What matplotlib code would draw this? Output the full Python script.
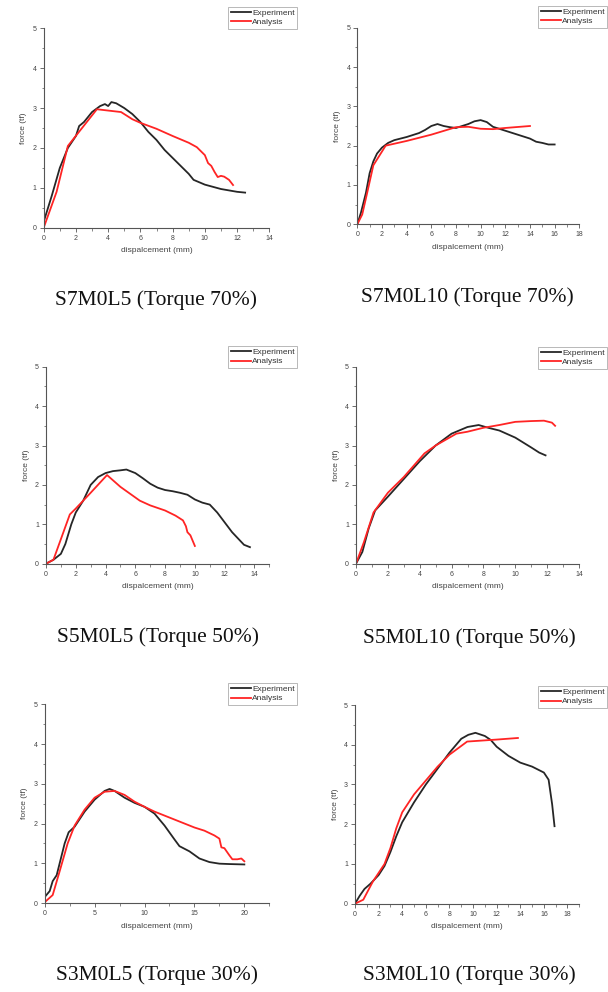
import matplotlib
matplotlib.use("Agg")
import matplotlib.pyplot as plt
from matplotlib.ticker import MultipleLocator

plt.rcParams['font.family'] = ['Liberation Sans', 'DejaVu Sans']

W, H = 608, 992
fig = plt.figure(figsize=(W / 100, H / 100), dpi=100)

# ---------------- data ----------------
# S7M0L5 (Torque 70%)
p1_exp_x = [0, 0.5, 1, 1.5, 2, 2.2, 2.5, 3, 3.5, 3.8, 4, 4.2, 4.5, 5, 5.5, 6, 6.5, 7, 7.5, 8, 8.5, 9, 9.3, 10, 11, 12, 12.5]
p1_exp_y = [0.15, 0.8, 1.5, 2.0, 2.3, 2.55, 2.65, 2.9, 3.05, 3.1, 3.05, 3.15, 3.12, 3.0, 2.85, 2.65, 2.4, 2.2, 1.95, 1.75, 1.55, 1.35, 1.2, 1.08, 0.97, 0.9, 0.88]
p1_ana_x = [0, 0.8, 1.5, 3.3, 4.8, 5.5, 6, 7, 8, 9, 9.5, 10, 10.2, 10.4, 10.6, 10.8, 11, 11.2, 11.5, 11.75]
p1_ana_y = [0, 0.9, 2.05, 2.97, 2.9, 2.72, 2.63, 2.48, 2.3, 2.13, 2.02, 1.82, 1.62, 1.55, 1.4, 1.27, 1.3, 1.28, 1.2, 1.07]

# S7M0L10 (Torque 70%)
p2_exp_x = [0, 0.3, 0.7, 1.0, 1.3, 1.6, 2, 2.5, 3, 4, 5, 5.5, 6, 6.5, 7, 7.5, 8, 8.5, 9, 9.5, 10, 10.5, 11, 12, 13, 14, 14.5, 15, 15.5, 16]
p2_exp_y = [0, 0.3, 0.8, 1.3, 1.6, 1.8, 1.95, 2.07, 2.14, 2.22, 2.32, 2.4, 2.5, 2.55, 2.5, 2.47, 2.45, 2.5, 2.55, 2.62, 2.65, 2.6, 2.48, 2.38, 2.28, 2.18, 2.1, 2.07, 2.03, 2.03]
p2_ana_x = [0, 0.4, 0.8, 1.3, 2.3, 4, 6, 8, 9, 10, 11, 12, 14]
p2_ana_y = [0, 0.25, 0.8, 1.5, 2.0, 2.12, 2.28, 2.47, 2.48, 2.43, 2.42, 2.45, 2.5]

# S5M0L5 (Torque 50%)
p3_exp_x = [0, 0.5, 1, 1.3, 1.7, 2, 2.5, 3, 3.5, 4, 4.5, 5, 5.4, 6, 6.5, 7, 7.5, 8, 8.5, 9, 9.5, 10, 10.5, 11, 11.5, 12, 12.5, 13, 13.3, 13.7]
p3_exp_y = [0, 0.1, 0.25, 0.5, 1.0, 1.3, 1.6, 2.0, 2.2, 2.3, 2.35, 2.37, 2.39, 2.3, 2.17, 2.03, 1.93, 1.87, 1.84, 1.8, 1.75, 1.63, 1.55, 1.5, 1.3, 1.05, 0.8, 0.6, 0.48, 0.42]
p3_ana_x = [0, 0.5, 1.6, 2, 3, 4.1, 5, 6.3, 7, 8, 8.7, 9.2, 9.4, 9.5, 9.7, 10]
p3_ana_y = [0, 0.1, 1.25, 1.4, 1.8, 2.25, 1.95, 1.6, 1.48, 1.35, 1.22, 1.1, 0.95, 0.8, 0.72, 0.45]

# S5M0L10 (Torque 50%)
p4_exp_x = [0, 0.4, 0.8, 1.2, 2, 3, 4, 5, 6, 7, 7.7, 8.3, 9, 10, 11, 11.5, 11.9]
p4_exp_y = [0, 0.3, 0.9, 1.35, 1.7, 2.15, 2.6, 3.0, 3.3, 3.47, 3.52, 3.45, 3.38, 3.2, 2.95, 2.82, 2.75]
p4_ana_x = [0, 0.5, 1.1, 2, 3, 4.3, 5, 6.3, 7, 8, 9, 10, 11, 11.8, 12.3, 12.5]
p4_ana_y = [0, 0.55, 1.3, 1.8, 2.2, 2.8, 3.0, 3.3, 3.35, 3.45, 3.52, 3.6, 3.62, 3.63, 3.58, 3.5]

# S3M0L5 (Torque 30%)
p5_exp_x = [0, 0.5, 0.8, 1.2, 1.6, 2, 2.4, 3, 4, 5, 6, 6.5, 7, 8, 9, 10, 11, 12, 13, 13.5, 14.5, 15.5, 16.5, 17.5, 18.5, 20]
p5_exp_y = [0.15, 0.3, 0.55, 0.7, 1.1, 1.5, 1.78, 1.92, 2.3, 2.6, 2.82, 2.87, 2.82, 2.65, 2.52, 2.42, 2.25, 1.95, 1.6, 1.43, 1.3, 1.12, 1.03, 0.99, 0.98, 0.97]
p5_ana_x = [0, 0.8, 1.5, 2.3, 3, 4, 5, 6, 7, 8, 9, 10, 11, 12, 13, 14, 15, 16, 17, 17.5, 17.7, 18, 18.5, 18.8, 19.3, 19.7, 20]
p5_ana_y = [0.02, 0.2, 0.8, 1.5, 1.95, 2.35, 2.65, 2.8, 2.82, 2.72, 2.55, 2.42, 2.3, 2.2, 2.1, 2.0, 1.9, 1.82, 1.7, 1.62, 1.4, 1.38, 1.2, 1.1, 1.1, 1.12, 1.05]

# S3M0L10 (Torque 30%)
p6_exp_x = [0, 0.4, 0.8, 1.3, 2, 2.5, 3, 3.5, 4, 5, 6, 7, 8, 9, 9.6, 10.2, 11, 11.5, 12, 13, 14, 15, 16, 16.4, 16.7, 16.9]
p6_exp_y = [0, 0.2, 0.37, 0.5, 0.72, 0.95, 1.3, 1.7, 2.05, 2.55, 3.0, 3.4, 3.8, 4.15, 4.25, 4.3, 4.22, 4.12, 3.95, 3.72, 3.55, 3.45, 3.3, 3.12, 2.5, 1.95]
p6_ana_x = [0, 0.7, 1.5, 2.5, 3, 3.5, 4, 5, 6, 7, 8, 9.5, 12, 13.8]
p6_ana_y = [0, 0.1, 0.55, 1.0, 1.4, 1.9, 2.3, 2.75, 3.1, 3.45, 3.75, 4.08, 4.13, 4.17]

captions = ["S7M0L5 (Torque 70%)", "S7M0L10 (Torque 70%)",
            "S5M0L5 (Torque 50%)", "S5M0L10 (Torque 50%)",
            "S3M0L5 (Torque 30%)", "S3M0L10 (Torque 30%)"]
x_maxes = [14, 18, 15, 14, 22.5, 19]
x_steps = [2, 2, 2, 2, 5, 2]
x_tickmax = [14, 18, 14, 14, 20, 18]

panels = [
    (p1_exp_x, p1_exp_y, p1_ana_x, p1_ana_y),
    (p2_exp_x, p2_exp_y, p2_ana_x, p2_ana_y),
    (p3_exp_x, p3_exp_y, p3_ana_x, p3_ana_y),
    (p4_exp_x, p4_exp_y, p4_ana_x, p4_ana_y),
    (p5_exp_x, p5_exp_y, p5_ana_x, p5_ana_y),
    (p6_exp_x, p6_exp_y, p6_ana_x, p6_ana_y),
]

# axes boxes in pixels: left, right, top, bottom
boxes = [
    (43.7, 269.3, 28.3, 227.7),
    (357.3, 579.3, 27.7, 224.3),
    (46.0, 269.3, 366.7, 563.7),
    (356.0, 579.0, 366.7, 563.7),
    (44.7, 269.3, 704.3, 903.0),
    (355.0, 579.3, 705.0, 903.7),
]
legend_tl = [(228, 7), (538, 6), (228, 346), (538, 347), (228, 683), (538, 686)]
caption_pos = [(156, 300), (467, 297), (158, 637), (469, 638), (157, 975), (469, 975)]

BLACK = "#262626"
RED = "#ff2424"
AXC = "#555555"

for i, (ex, ey, ax_, ay) in enumerate(panels):
    l, r, t, b = boxes[i]
    ax = fig.add_axes([l / W, 1 - b / H, (r - l) / W, (b - t) / H])
    h1, = ax.plot(ex, ey, color=BLACK, lw=1.3, label="Experiment")
    h2, = ax.plot(ax_, ay, color=RED, lw=1.3, label="Analysis")
    ax.set_xlim(0, x_maxes[i])
    ax.set_ylim(0, 5)
    ax.set_xticks(range(0, x_tickmax[i] + 1, x_steps[i]))
    ax.set_yticks(range(0, 6))
    ax.xaxis.set_minor_locator(MultipleLocator(x_steps[i] / 2))
    ax.yaxis.set_minor_locator(MultipleLocator(0.5))
    for s in ("top", "right"):
        ax.spines[s].set_visible(False)
    for s in ("left", "bottom"):
        ax.spines[s].set_color(AXC)
        ax.spines[s].set_linewidth(0.8)
    ax.tick_params(which="major", direction="out", length=3, width=0.6, color=AXC,
                   labelsize=5, labelcolor="#444444", pad=2)
    ax.tick_params(which="minor", direction="out", length=1.8, width=0.5, color=AXC)
    ax.set_xlabel("dispalcement (mm)", fontsize=6, color="#444444", labelpad=4)
    ax.set_ylabel("force (tf)", fontsize=6, color="#444444", labelpad=4)
    ax.patch.set_alpha(0)
    lx, ly = legend_tl[i]
    leg = ax.legend(handles=[h1, h2], loc="upper left",
                    bbox_to_anchor=(lx / W, 1 - ly / H), bbox_transform=fig.transFigure,
                    prop={'family': 'Liberation Sans', 'size': 6}, frameon=True,
                    fancybox=False, handlelength=2.4,
                    handletextpad=0.2, borderpad=0.3, labelspacing=0.15,
                    borderaxespad=0)
    leg.get_frame().set_edgecolor("#999999")
    leg.get_frame().set_linewidth(0.6)
    for txt in leg.get_texts():
        txt.set_color("#333333")
    cx, cy = caption_pos[i]
    fig.text(cx / W, 1 - cy / H, captions[i], ha="center", va="center",
             fontsize=15.5, family="Liberation Serif", color="#111111")

fig.savefig("out.png", dpi=100)
